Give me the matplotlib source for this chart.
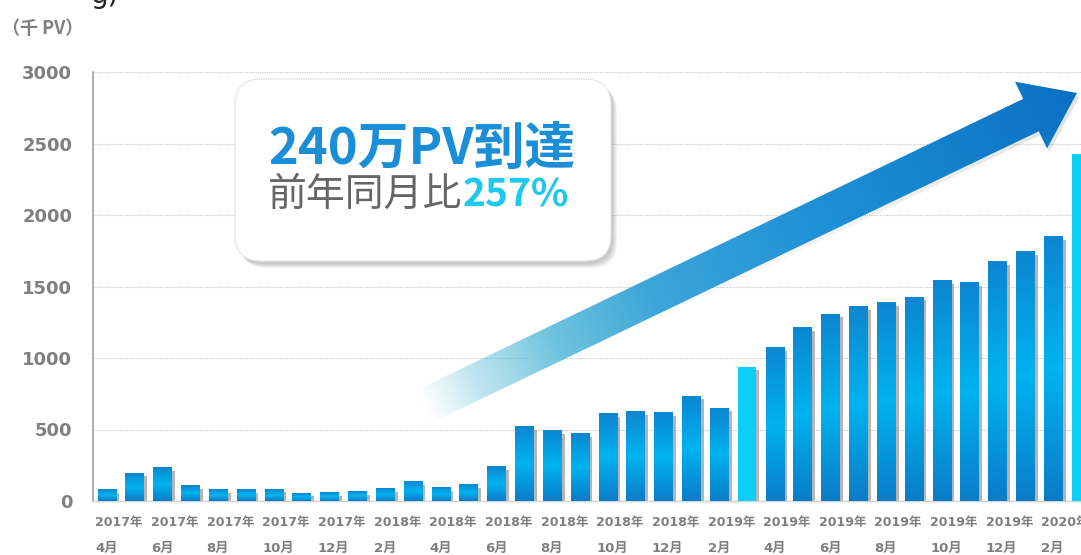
import numpy as np
import matplotlib
matplotlib.use('Agg')
import matplotlib.pyplot as plt
from matplotlib.colors import LinearSegmentedColormap, to_rgb
from matplotlib.patches import Polygon, FancyBboxPatch
from matplotlib.transforms import blended_transform_factory

# monthly page views (thousand PV), 2017-04 .. 2020-03
months = ['2017-04', '2017-05', '2017-06', '2017-07', '2017-08', '2017-09',
          '2017-10', '2017-11', '2017-12', '2018-01', '2018-02', '2018-03',
          '2018-04', '2018-05', '2018-06', '2018-07', '2018-08', '2018-09',
          '2018-10', '2018-11', '2018-12', '2019-01', '2019-02', '2019-03',
          '2019-04', '2019-05', '2019-06', '2019-07', '2019-08', '2019-09',
          '2019-10', '2019-11', '2019-12', '2020-01', '2020-02', '2020-03']
pv = [77, 194, 233, 105, 77, 77, 82, 54, 56, 65, 86, 133,
      93, 114, 238, 522, 494, 470, 609, 623, 618, 734, 650, 940,
      1073, 1210, 1306, 1360, 1388, 1425, 1539, 1525, 1675, 1745, 1850, 2425]
highlight = ['2019-03', '2020-03']

tick_years = ['2017年', '2017年', '2017年', '2017年', '2017年', '2018年',
              '2018年', '2018年', '2018年', '2018年', '2018年', '2019年',
              '2019年', '2019年', '2019年', '2019年', '2019年', '2020年']
tick_months = ['4月', '6月', '8月', '10月', '12月', '2月',
               '4月', '6月', '8月', '10月', '12月', '2月',
               '4月', '6月', '8月', '10月', '12月', '2月']
yticks = [0, 500, 1000, 1500, 2000, 2500, 3000]

headline = '240万PV到達'
sub_label = '前年同月比'
sub_value = '257%'
unit_label = '（千 PV）'

plt.rcParams['font.family'] = ['DejaVu Sans', 'Noto Sans CJK JP']
GREY = '#7f7f7f'

W, H = 1081, 555
fig = plt.figure(figsize=(W / 100, H / 100), dpi=100)
ax = fig.add_axes([93 / W, (H - 501) / H, 1 - 93 / W, 429 / H])

x = np.arange(len(pv))
bw = 0.67
grad = LinearSegmentedColormap.from_list(
    'bar', [(0, '#0a7cc8'), (0.5, '#00b3f0'), (1, '#0c86d0')])
g = np.linspace(0, 1, 256).reshape(-1, 1)
for xi, v, m in zip(x, pv, months):
    # drop shadow
    ax.bar(xi + 0.11, v - 22, bw, color='#9c9c9c', alpha=0.75, zorder=2, linewidth=0)
    if m in highlight:
        ax.bar(xi, v, bw, color='#0ccff6', zorder=3, linewidth=0)
    else:
        ax.imshow(g, cmap=grad, extent=(xi - bw / 2, xi + bw / 2, 0, v),
                  origin='lower', aspect='auto', zorder=3)

ax.set_xlim(-0.5, 35.0)
ax.set_ylim(0, 3000)
ax.set_xticks([])
ax.set_yticks(yticks, labels=[str(t) for t in yticks], fontweight='bold')
ax.tick_params(axis='y', length=0, pad=15, labelsize=13, labelcolor=GREY)
ax.yaxis.grid(True, color='#c8c8c8', linestyle=(0, (1, 1)), linewidth=0.8)
ax.set_axisbelow(True)
for s in ['top', 'right']:
    ax.spines[s].set_visible(False)
ax.spines['left'].set_color('#a8a8a8')
ax.spines['left'].set_linewidth(1.3)
ax.spines['bottom'].set_color('#d4d4d4')
ax.spines['bottom'].set_linewidth(1.0)

trans = blended_transform_factory(ax.transData, ax.transAxes)
for k, (yr, mo) in enumerate(zip(tick_years, tick_months)):
    xi = 2 * k - 0.42
    ax.annotate(yr, xy=(xi, 0), xycoords=trans, xytext=(0, -21.5),
                textcoords='offset pixels', ha='left', va='center',
                fontsize=9, fontweight='bold', color=GREY)
    ax.annotate(mo, xy=(xi, 0), xycoords=trans, xytext=(0, -47.5),
                textcoords='offset pixels', ha='left', va='center',
                fontsize=9.5, fontweight='bold', color=GREY)

fig.text(2 / W, 1 - 28 / H, unit_label, ha='left', va='center', fontsize=13,
         fontweight='bold', color=GREY, family=['Noto Sans CJK JP'])
fig.text(90 / W, 1 - 3 / H, 'g)', ha='left', va='baseline', fontsize=20, color='#222222')

# decoration layer in pixel coordinates
deco = fig.add_axes([0, 0, 1, 1], zorder=5)
deco.set_xlim(0, W)
deco.set_ylim(H, 0)
deco.axis('off')

# big gradient arrow
tail = np.array([423.0, 407.0])
tip = np.array([1077.0, 93.0])
L = np.linalg.norm(tip - tail)
u = (tip - tail) / L
n = np.array([-u[1], u[0]])
sw, hw, hl = 18.0, 37.0, 51.0
base = tip - hl * u
pts = [tail - sw * n, base - sw * n, base - hw * n, tip,
       base + hw * n, base + sw * n, tail + sw * n]

x0, x1, y0, y1 = 380, 1081, 60, 450
gx, gy = np.meshgrid(np.linspace(x0, x1, 701), np.linspace(y0, y1, 391))
s = np.clip(((gx - tail[0]) * u[0] + (gy - tail[1]) * u[1]) / L, 0, 1)
stops = [(0.0, '#9ad6e4', 0.0), (0.08, '#7fcbe0', 0.5), (0.2, '#5bbbda', 0.88),
         (0.35, '#3ba6d8', 1.0), (0.6, '#1f91d6', 1.0), (1.0, '#0a71c2', 1.0)]
sp = [a for a, _, _ in stops]
img = np.zeros(s.shape + (4,))
for c in range(3):
    img[..., c] = np.interp(s, sp, [to_rgb(col)[c] for _, col, _ in stops])
img[..., 3] = np.interp(s, sp, [al for _, _, al in stops])

shadow_pts = [p + np.array([2.5, 3.5]) for p in pts]
shp = Polygon(shadow_pts, closed=True, fc='none', ec='none')
deco.add_patch(shp)
shimg = np.zeros(s.shape + (4,))
shimg[..., 3] = 0.12 * s ** 2
im0 = deco.imshow(shimg, extent=(x0, x1, y1, y0), origin='upper', aspect='auto', zorder=1)
im0.set_clip_path(shp)

poly = Polygon(pts, closed=True, fc='none', ec='none')
deco.add_patch(poly)
im = deco.imshow(img, extent=(x0, x1, y1, y0), origin='upper', aspect='auto', zorder=2)
im.set_clip_path(poly)

# callout box with soft shadow
bx, by, bwid, bh = 235, 79, 376, 182
for k in range(7):
    deco.add_patch(FancyBboxPatch((bx + 2 + k * 0.7, by + 3 + k * 0.7), bwid, bh,
                                  boxstyle='round,pad=0,rounding_size=26',
                                  fc='black', ec='none', alpha=0.03, zorder=3))
deco.add_patch(FancyBboxPatch((bx, by), bwid, bh, boxstyle='round,pad=0,rounding_size=26',
                              fc='white', ec='#e4e4e4', lw=0.8, zorder=4))

deco.text(268, 149, headline, ha='left', va='center', fontsize=36.5, fontweight='bold',
          color='#1a8ed6', family=['Noto Sans CJK JP'], zorder=5)
t1 = deco.text(268, 195, sub_label, ha='left', va='center', fontsize=28,
               color='#666666', family=['Noto Sans CJK JP'], zorder=5)
deco.annotate(sub_value, xy=(1, 0.5), xycoords=t1, ha='left', va='center', fontsize=28,
              fontweight='bold', color='#1fc8ee', family=['Noto Sans CJK JP'], zorder=5)

fig.savefig('out.png', dpi=100, facecolor='white')
